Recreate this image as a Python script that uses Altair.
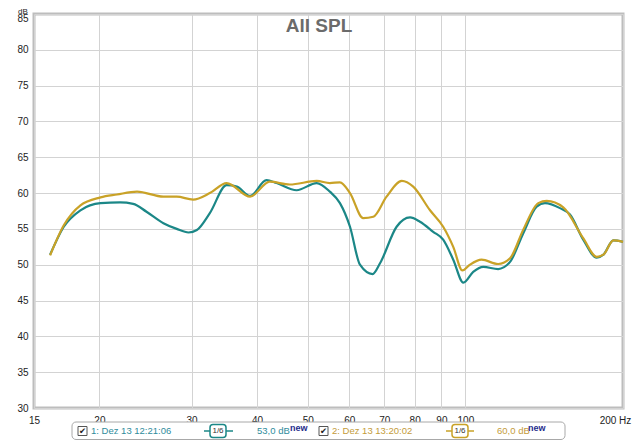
import altair as alt
import pandas as pd

# ---- data ----
freq1 = [16.1, 17.1, 18.4, 20.1, 21.9, 23.2, 24.6, 26.5, 28.1, 29.6, 30.7, 32.5, 35.0, 36.6,
         38.8, 41.7, 43.6, 47.6, 52.0, 55.1, 57.6, 60.2, 62.9, 66.5, 68.7, 73.9, 78.4, 81.9,
         86.8, 90.7, 94.8, 99.1, 103.5, 108.2, 115.5, 121.7, 129.0, 136.8, 141.9, 151.6,
         158.4, 167.9, 178.2, 183.5, 191.7, 200.0]
spl1 = [51.4, 55.3, 57.6, 58.6, 58.7, 58.5, 57.4, 55.8, 55.0, 54.5, 54.85, 57.2, 61.1, 60.9,
        59.6, 61.8, 61.4, 60.4, 61.4, 60.2, 58.6, 55.3, 50.0, 48.7, 50.2, 55.3, 56.6, 56.0,
        54.6, 53.5, 50.7, 47.5, 49.0, 49.7, 49.4, 50.4, 54.4, 58.1, 58.6, 57.9,
        57.0, 53.5, 51.0, 51.4, 53.4, 53.2]

freq2 = [16.1, 17.1, 18.4, 20.1, 21.6, 23.6, 26.5, 28.1, 30.2, 32.5, 35.0, 38.8, 42.3, 46.2,
         52.0, 55.1, 57.6, 60.2, 63.8, 66.7, 70.7, 75.6, 79.5, 85.6, 90.7, 94.8, 98.7, 102.0,
         107.4, 115.5, 121.7, 129.0, 137.8, 143.0, 153.8, 167.9, 178.2, 183.5, 191.7, 200.0]
spl2 = [51.3, 55.5, 58.3, 59.4, 59.8, 60.2, 59.5, 59.5, 59.1, 60.0, 61.4, 59.5, 61.6, 61.2,
        61.7, 61.4, 61.5, 60.0, 56.5, 56.7, 59.5, 61.7, 60.9, 57.6, 55.3, 52.5, 49.2, 50.0,
        50.7, 50.1, 50.9, 54.9, 58.6, 58.9, 58.0, 53.7, 51.1, 51.4, 53.4, 53.2]

series_names = ["1: Dez 13 12:21:06", "2: Dez 13 13:20:02"]
x_ticks = [15, 20, 30, 40, 50, 60, 70, 80, 90, 100, 200]
y_ticks = [30, 35, 40, 45, 50, 55, 60, 65, 70, 75, 80, 85]

TEAL = "#1b8787"
GOLD = "#c9a227"
TEAL_TXT = "#2f8c9c"
GOLD_TXT = "#c49c3a"

df = pd.concat([
    pd.DataFrame({"freq": freq1, "spl": spl1, "series": series_names[0]}),
    pd.DataFrame({"freq": freq2, "spl": spl2, "series": series_names[1]}),
])

W, H = 589, 394
FONT = "Liberation Sans"

lines = alt.Chart(df).mark_line(interpolate="monotone", strokeWidth=2.2).encode(
    x=alt.X("freq:Q",
            scale=alt.Scale(type="log", domain=[15, 200], nice=False),
            axis=alt.Axis(values=x_ticks, title=None, grid=True, gridColor="#d3d3d3",
                          ticks=False, domain=False, labelOverlap=False, labelFlush=False,
                          labelExpr="datum.value == 200 ? '200 Hz' : format(datum.value, 'd')",
                          labelOffset={"condition": {"test": "datum.value == 200", "value": -8},
                                       "value": 0},
                          labelColor="#222222", labelFontSize=10, labelFont=FONT,
                          labelPadding=7)),
    y=alt.Y("spl:Q",
            scale=alt.Scale(domain=[30, 85], nice=False),
            axis=alt.Axis(values=y_ticks, title=None, grid=True, gridColor="#d3d3d3",
                          ticks=False, domain=False, labelColor="#222222", labelFlush=False,
                          labelOffset={"condition": {"test": "datum.value == 85", "value": 4.5},
                                       "value": 0},
                          labelFontSize=10, labelFont=FONT, labelPadding=6)),
    color=alt.Color("series:N", scale=alt.Scale(domain=series_names, range=[TEAL, GOLD]),
                    legend=None),
    detail="series:N",
)

one = pd.DataFrame({"k": [0]})


def txt(s, x, y, color="#222222", size=10, weight="normal", align="left", font=FONT,
        baseline="middle"):
    return alt.Chart(one).mark_text(align=align, baseline=baseline, fontSize=size,
                                    fontWeight=weight, font=font, color=color).encode(
        x=alt.value(x), y=alt.value(y), text=alt.value(s))


def box(x, x2, y, y2, stroke, radius=0, width=1, fill="white"):
    return alt.Chart(one).mark_rect(fill=fill, stroke=stroke, strokeWidth=width,
                                    cornerRadius=radius).encode(
        x=alt.value(x), x2=alt.value(x2), y=alt.value(y), y2=alt.value(y2))


def seg(x, x2, y, color, width=1.5):
    return alt.Chart(one).mark_rule(color=color, strokeWidth=width).encode(
        x=alt.value(x), x2=alt.value(x2), y=alt.value(y))


OX, OY = 34, 14  # page position of the plot origin
ly = 431 - OY

decor = [
    txt("All SPL", 319 - OX, 26 - OY, color="#6b6b6b", size=19, weight="bold", align="center"),
    txt("dB", 23 - OX, 8 - OY, size=8, align="center", baseline="top"),
    # legend strip
    box(72 - OX, 565 - OX, 422 - OY, 439.5 - OY, "#a8a8a8", radius=4),
    box(78 - OX, 87 - OX, 426.5 - OY, 435.5 - OY, "#555555", width=1),
    txt("✔", 82.5 - OX, ly, size=8.5, align="center", font="DejaVu Sans"),
    txt(series_names[0], 91 - OX, ly, color=TEAL_TXT, size=9.5),
    seg(204 - OX, 210 - OX, ly, TEAL),
    seg(226 - OX, 233 - OX, ly, TEAL),
    box(210 - OX, 226 - OX, 424.5 - OY, 437.5 - OY, TEAL, radius=3, width=1.5),
    txt("1/6", 218 - OX, ly, color="#333333", size=8, align="center"),
    txt("53,0 dB", 257 - OX, ly, color=TEAL_TXT, size=9.5),
    txt("new", 290 - OX, ly - 3, color="#1f2d8c", size=9, weight="bold"),
    box(319 - OX, 328 - OX, 426.5 - OY, 435.5 - OY, "#555555", width=1),
    txt("✔", 323.5 - OX, ly, size=8.5, align="center", font="DejaVu Sans"),
    txt(series_names[1], 332 - OX, ly, color=GOLD_TXT, size=9.5),
    seg(446 - OX, 452 - OX, ly, GOLD),
    seg(468 - OX, 474 - OX, ly, GOLD),
    box(452 - OX, 468 - OX, 424.5 - OY, 437.5 - OY, GOLD, radius=3, width=1.5),
    txt("1/6", 460 - OX, ly, color="#333333", size=8, align="center"),
    txt("60,0 dB", 497 - OX, ly, color=GOLD_TXT, size=9.5),
    txt("new", 528 - OX, ly - 3, color="#1f2d8c", size=9, weight="bold"),
]

chart = alt.layer(lines, *decor).properties(
    width=W, height=H,
    autosize=alt.AutoSizeParams(type="none"),
    padding={"left": OX - 8, "top": OY - 8, "right": 9, "bottom": 32},
    background="white",
).configure_view(stroke="#bdbdbd", strokeWidth=3)

chart.save("out.html", embed_options={"renderer": "svg", "actions": False})
